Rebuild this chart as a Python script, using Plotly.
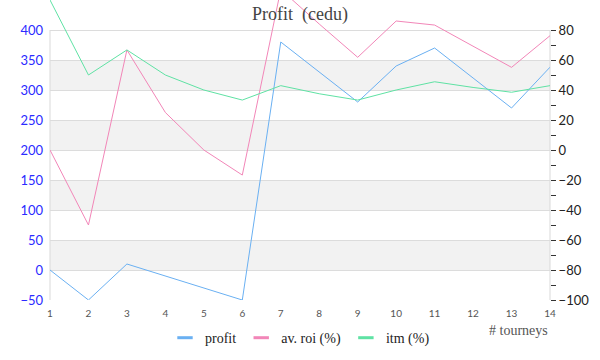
import plotly.graph_objects as go

tourneys = list(range(1, 15))
profit = [0, -50, 10, -10, -30, -50, 380, 330, 280, 340, 370, 320, 270, 338]
av_roi = [0, -50, 66.7, 25, 0, -16.7, 107, 84, 61.8, 86, 83.3, 69, 55.1, 76.2]
itm = [100, 50, 66.7, 50, 40, 33.3, 42.9, 37.5, 33.3, 40, 45.5, 41.7, 38.5, 42.9]

left_ticks = [-50, 0, 50, 100, 150, 200, 250, 300, 350, 400]
right_ticks = [-100, -80, -60, -40, -20, 0, 20, 40, 60, 80]
right_minor = [-90, -70, -50, -30, -10, 10, 30, 50, 70]
bands = [(0, 50), (100, 150), (200, 250), (300, 350)]

names = ["profit", "av. roi (%)", "itm (%)"]
colors = ["#6ab0f2", "#f286b8", "#5fe2a4"]

serif = "Liberation Serif, Times New Roman, serif"
sans = "Lato, Noto Sans, sans-serif"

fig = go.Figure()
fig.add_trace(go.Scatter(x=tourneys, y=profit, mode="lines", line=dict(color=colors[0], width=1),
                         showlegend=False, yaxis="y"))
fig.add_trace(go.Scatter(x=tourneys, y=av_roi, mode="lines", line=dict(color=colors[1], width=1),
                         showlegend=False, yaxis="y2"))
fig.add_trace(go.Scatter(x=tourneys, y=itm, mode="lines", line=dict(color=colors[2], width=1),
                         showlegend=False, yaxis="y2"))
# legend entries
for n, c in zip(names, colors):
    fig.add_trace(go.Scatter(x=[None], y=[None], mode="markers", name=n,
                             marker=dict(symbol="line-ew", size=11, line=dict(color=c, width=3))))

shapes = []
for lo, hi in bands:
    shapes.append(dict(type="rect", xref="paper", yref="y", x0=0, x1=1, y0=lo, y1=hi,
                       fillcolor="#f2f2f2", line=dict(width=0), layer="below"))
for xp in (0, 1):
    shapes.append(dict(type="line", xref="paper", yref="y", x0=xp, x1=xp, y0=-50, y1=400,
                       line=dict(color="#d9d9d9", width=1), layer="below"))

fig.update_layout(
    width=600, height=360,
    margin=dict(l=50, r=50, t=0, b=60, autoexpand=False),
    paper_bgcolor="white", plot_bgcolor="white",
    title=dict(text="Profit\u00a0 (cedu)", x=0.5, xanchor="center", y=0.963, yanchor="middle",
               yref="container", font=dict(family=serif, size=18, color="#444")),
    xaxis=dict(range=[1, 14], tickmode="array", tickvals=tourneys, showgrid=False, zeroline=False,
               showline=False, ticks="", ticklabelstandoff=6,
               tickfont=dict(family=sans, size=10, color="#555")),
    yaxis=dict(range=[-50, 450], tickmode="array", tickvals=left_ticks, showgrid=True,
               gridcolor="#dcdcdc", gridwidth=1, zeroline=False, showline=False, ticks="",
               ticklabelstandoff=6,
               tickfont=dict(family=sans, size=13, color="#2b2bff")),
    yaxis2=dict(range=[-100, 100], overlaying="y", side="right", tickmode="array",
                tickvals=right_ticks, showgrid=False, zeroline=False, showline=False,
                ticks="outside", ticklen=5, tickcolor="#333",
                minor=dict(tickmode="array", tickvals=right_minor, ticks="outside", ticklen=5,
                           tickcolor="#333", showgrid=False),
                tickfont=dict(family=sans, size=13, color="#222")),
    shapes=shapes,
    legend=dict(orientation="h", x=0.5, xanchor="center", y=-0.127, yanchor="middle",
                font=dict(family=serif, size=14, color="#222"), bgcolor="rgba(0,0,0,0)"),
    annotations=[dict(text="# tourneys", xref="paper", yref="paper", x=1, y=-0.1,
                      xanchor="right", yanchor="middle", showarrow=False,
                      font=dict(family=serif, size=14, color="#555"))],
)

fig.write_html("out.html", config={"displayModeBar": False},
               post_script="document.body.style.margin='0';")
